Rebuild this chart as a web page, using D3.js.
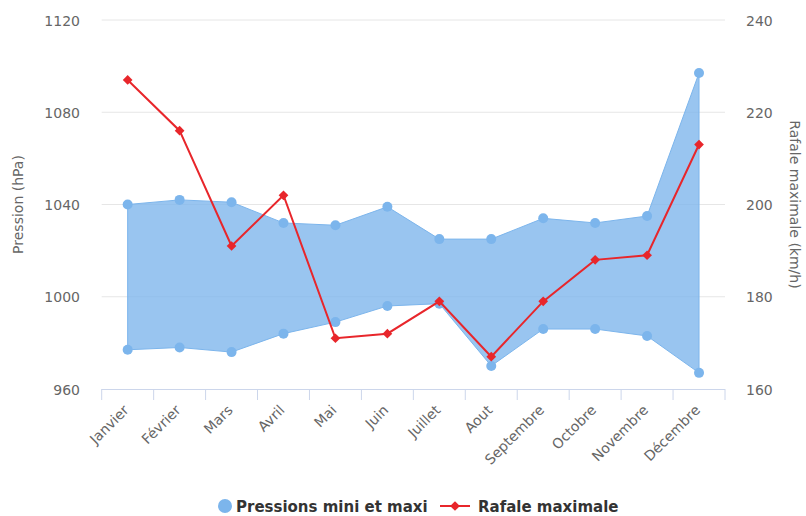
<!DOCTYPE html>
<html>
<head>
<meta charset="utf-8">
<script src="https://cdn.jsdelivr.net/npm/d3@7"></script>
<style>
  html, body { margin: 0; padding: 0; background: #fff; }
  svg { display: block; font-family: "DejaVu Sans", sans-serif; }
</style>
</head>
<body>
<svg id="chart" width="806" height="516"></svg>
<script>
// Monthly pressure range (hPa) and maximum gust (km/h)
const months = ["Janvier", "Février", "Mars", "Avril", "Mai", "Juin", "Juillet", "Aout", "Septembre", "Octobre", "Novembre", "Décembre"];
const pressureMin = [977, 978, 976, 984, 989, 996, 997, 970, 986, 986, 983, 967];
const pressureMax = [1040, 1042, 1041, 1032, 1031, 1039, 1025, 1025, 1034, 1032, 1035, 1097];
const gustMax = [227, 216, 191, 202, 171, 172, 179, 167, 179, 188, 189, 213];
const pressureTicks = [960, 1000, 1040, 1080, 1120];
const gustTicks = [160, 180, 200, 220, 240];

const svg = d3.select("#chart");
const plotLeft = 101.7, plotRight = 725, plotTop = 20, plotBottom = 389;

const x = d3.scaleBand().domain(months).range([plotLeft, plotRight]);
const yP = d3.scaleLinear().domain([960, 1120]).range([plotBottom, plotTop]);
const yG = d3.scaleLinear().domain([160, 240]).range([plotBottom, plotTop]);
const cx = m => x(m) + x.bandwidth() / 2;

const blue = "#7cb5ec", red = "#e8262b", labelGrey = "#666";

// Horizontal grid lines
svg.append("g").selectAll("line").data(pressureTicks.slice(1)).join("line")
  .attr("x1", plotLeft).attr("x2", plotRight)
  .attr("y1", d => yP(d)).attr("y2", d => yP(d))
  .attr("stroke", "#e6e6e6").attr("stroke-width", 1);

// Left axis labels
svg.append("g").selectAll("text").data(pressureTicks).join("text")
  .attr("x", 80).attr("y", d => yP(d) + 5.5)
  .attr("text-anchor", "end").attr("font-size", 14).attr("fill", labelGrey)
  .text(d => d);

// Right axis labels
svg.append("g").selectAll("text").data(gustTicks).join("text")
  .attr("x", 746).attr("y", d => yG(d) + 5.5)
  .attr("text-anchor", "start").attr("font-size", 14).attr("fill", labelGrey)
  .text(d => d);

// Axis titles
svg.append("text")
  .attr("transform", `translate(23,${(plotTop + plotBottom) / 2}) rotate(-90)`)
  .attr("text-anchor", "middle").attr("font-size", 14).attr("fill", labelGrey)
  .text("Pression (hPa)");
svg.append("text")
  .attr("transform", `translate(790,${(plotTop + plotBottom) / 2}) rotate(90)`)
  .attr("text-anchor", "middle").attr("font-size", 14).attr("fill", labelGrey)
  .text("Rafale maximale (km/h)");

// Pressure range area
const rows = months.map((m, i) => ({ m, lo: pressureMin[i], hi: pressureMax[i], g: gustMax[i] }));
svg.append("path").datum(rows)
  .attr("d", d3.area().x(d => cx(d.m)).y0(d => yP(d.lo)).y1(d => yP(d.hi)))
  .attr("fill", blue).attr("fill-opacity", 0.78)
  .attr("stroke", blue).attr("stroke-width", 1);

const pts = svg.append("g");
pts.selectAll("circle.hi").data(rows).join("circle")
  .attr("cx", d => cx(d.m)).attr("cy", d => yP(d.hi)).attr("r", 5).attr("fill", blue);
pts.selectAll("circle.lo").data(rows).join("circle")
  .attr("cx", d => cx(d.m)).attr("cy", d => yP(d.lo)).attr("r", 5).attr("fill", blue);

// X axis line and ticks
svg.append("line").attr("x1", plotLeft).attr("x2", plotRight).attr("y1", plotBottom + 0.5).attr("y2", plotBottom + 0.5)
  .attr("stroke", "#ccd6eb").attr("stroke-width", 1);
const tickXs = months.map(m => x(m)).concat([plotRight]);
svg.append("g").selectAll("line").data(tickXs).join("line")
  .attr("x1", d => d).attr("x2", d => d).attr("y1", plotBottom).attr("y2", plotBottom + 11)
  .attr("stroke", "#ccd6eb").attr("stroke-width", 1);

// Month labels, rotated
svg.append("g").selectAll("text").data(months).join("text")
  .attr("transform", d => `translate(${cx(d) + 2},${plotBottom + 22}) rotate(-45)`)
  .attr("text-anchor", "end").attr("font-size", 14).attr("fill", labelGrey)
  .text(d => d);

// Gust line
svg.append("path").datum(rows)
  .attr("d", d3.line().x(d => cx(d.m)).y(d => yG(d.g)))
  .attr("fill", "none").attr("stroke", red).attr("stroke-width", 2);
const diamond = d3.symbol().type(d3.symbolDiamond2).size(60);
svg.append("g").selectAll("path").data(rows).join("path")
  .attr("transform", d => `translate(${cx(d.m)},${yG(d.g)})`)
  .attr("d", diamond).attr("fill", red);

// Legend
const leg = svg.append("g").attr("font-size", 15).attr("font-weight", "bold").attr("fill", "#333");
leg.append("circle").attr("cx", 225).attr("cy", 506).attr("r", 7).attr("fill", blue);
leg.append("text").attr("x", 236).attr("y", 511.5).text("Pressions mini et maxi");
leg.append("line").attr("x1", 440).attr("x2", 470).attr("y1", 506).attr("y2", 506)
  .attr("stroke", red).attr("stroke-width", 2);
leg.append("path").attr("transform", "translate(455,506)").attr("d", diamond).attr("fill", red);
leg.append("text").attr("x", 478).attr("y", 511.5).text("Rafale maximale");
</script>
</body>
</html>
